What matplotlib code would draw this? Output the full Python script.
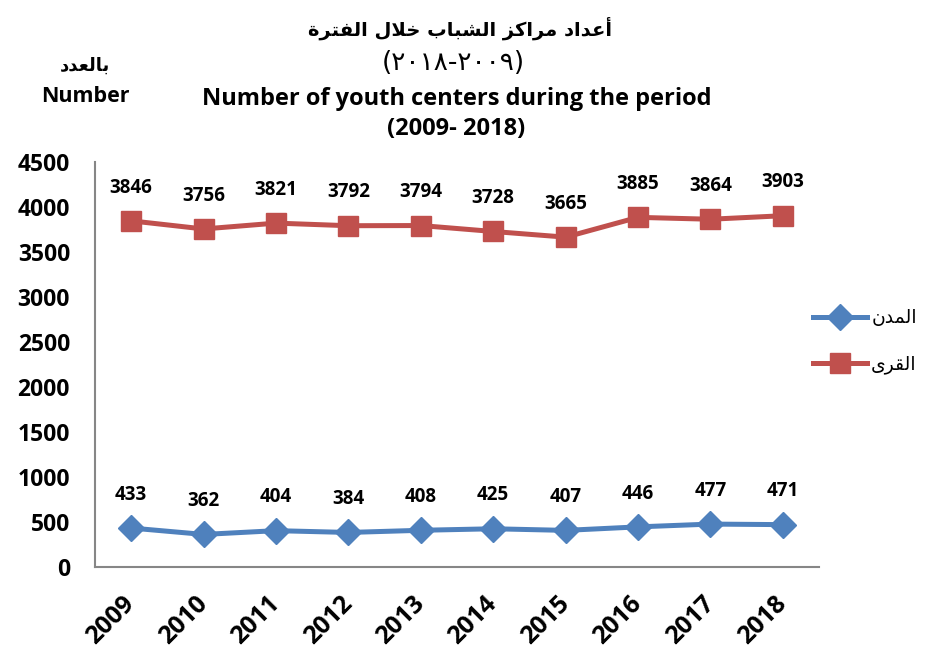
import matplotlib
matplotlib.use("Agg")
import matplotlib.pyplot as plt
from matplotlib.lines import Line2D

# data
years = ["2009", "2010", "2011", "2012", "2013", "2014", "2015", "2016", "2017", "2018"]
cities = [433, 362, 404, 384, 408, 425, 407, 446, 477, 471]
villages = [3846, 3756, 3821, 3792, 3794, 3728, 3665, 3885, 3864, 3903]
yticks = [0, 500, 1000, 1500, 2000, 2500, 3000, 3500, 4000, 4500]

title_ar = "أعداد مراكز الشباب خلال الفترة"
title_ar_years = "(٢٠١٨-٢٠٠٩)"
title_en = "Number of youth centers during the period\n(2009- 2018)"
ylabel_ar = "بالعدد"
ylabel_en = "Number"
label_cities = "المدن"
label_villages = "القرى"

# small arabic shaper (matplotlib has no contextual shaping / bidi)
# letter: (isolated, final, initial, medial) ; None -> right-joining only
FORMS = {
    "ا": ("\uFE8D", "\uFE8E", None, None),
    "أ": ("\uFE83", "\uFE84", None, None),
    "ب": ("\uFE8F", "\uFE90", "\uFE91", "\uFE92"),
    "ة": ("\uFE93", "\uFE94", None, None),
    "ت": ("\uFE95", "\uFE96", "\uFE97", "\uFE98"),
    "خ": ("\uFEA5", "\uFEA6", "\uFEA7", "\uFEA8"),
    "د": ("\uFEA9", "\uFEAA", None, None),
    "ر": ("\uFEAD", "\uFEAE", None, None),
    "ز": ("\uFEAF", "\uFEB0", None, None),
    "ش": ("\uFEB5", "\uFEB6", "\uFEB7", "\uFEB8"),
    "ع": ("\uFEC9", "\uFECA", "\uFECB", "\uFECC"),
    "ف": ("\uFED1", "\uFED2", "\uFED3", "\uFED4"),
    "ق": ("\uFED5", "\uFED6", "\uFED7", "\uFED8"),
    "ك": ("\uFED9", "\uFEDA", "\uFEDB", "\uFEDC"),
    "ل": ("\uFEDD", "\uFEDE", "\uFEDF", "\uFEE0"),
    "م": ("\uFEE1", "\uFEE2", "\uFEE3", "\uFEE4"),
    "ن": ("\uFEE5", "\uFEE6", "\uFEE7", "\uFEE8"),
    "ى": ("\uFEEF", "\uFEF0", None, None),
}
LAM_ALEF = {"ا": ("\uFEFB", "\uFEFC"), "أ": ("\uFEF7", "\uFEF8")}


def shape(s):
    out = []
    i = 0
    while i < len(s):
        c = s[i]
        if c not in FORMS:
            out.append(c)
            i += 1
            continue
        prev = s[i - 1] if i > 0 else None
        join_prev = prev in FORMS and FORMS[prev][2] is not None
        if c == "ل" and i + 1 < len(s) and s[i + 1] in LAM_ALEF:
            out.append(LAM_ALEF[s[i + 1]][1 if join_prev else 0])
            i += 2
            continue
        nxt = s[i + 1] if i + 1 < len(s) else None
        join_next = FORMS[c][2] is not None and nxt in FORMS
        iso, fin, ini, med = FORMS[c]
        if join_prev and join_next:
            out.append(med)
        elif join_prev:
            out.append(fin)
        elif join_next:
            out.append(ini)
        else:
            out.append(iso)
        i += 1
    return "".join(out)[::-1]


BLUE = "#4F81BD"
RED = "#C0504D"
EN_FONT = "Open Sans"

fig = plt.figure(figsize=(9.26, 6.54), dpi=100)
ax = fig.add_axes([0.1026, 0.1330, 0.7818, 0.6193])

x = list(range(len(years)))
ax.plot(x, cities, color=BLUE, lw=3.6, marker="D", ms=13, mec=BLUE)
ax.plot(x, villages, color=RED, lw=3.6, marker="s", ms=15, mec=RED)

for xi, v in zip(x, cities):
    ax.annotate(str(v), (xi, v), xytext=(0, 24), textcoords="offset points",
                ha="center", va="center", fontsize=13.5, fontweight="bold", family=EN_FONT)
for xi, v in zip(x, villages):
    ax.annotate(str(v), (xi, v), xytext=(0, 24), textcoords="offset points",
                ha="center", va="center", fontsize=13.5, fontweight="bold", family=EN_FONT)

ax.set_xlim(-0.5, len(years) - 0.5)
ax.set_ylim(0, 4500)
ax.set_yticks(yticks)
ax.set_yticklabels([str(t) for t in yticks], fontsize=16.5, fontweight="bold", family=EN_FONT)
ax.set_xticks(x)
ax.set_xticklabels(years, fontsize=18, fontweight="bold", family=EN_FONT,
                   rotation=45, ha="right", va="center", rotation_mode="anchor")
ax.tick_params(axis="y", length=0, pad=18)
ax.tick_params(axis="x", length=0, pad=24)

for s in ["top", "right"]:
    ax.spines[s].set_visible(False)
for s in ["left", "bottom"]:
    ax.spines[s].set_color("#868686")
    ax.spines[s].set_linewidth(1.5)

# titles
fig.text(0.497, 0.957, shape(title_ar), ha="center", va="center", fontsize=14,
         fontweight="bold", family="DejaVu Sans")
fig.text(0.490, 0.903, title_ar_years, ha="center", va="center", fontsize=19,
         family="DejaVu Sans")
fig.text(0.493, 0.825, title_en, ha="center", va="center", fontsize=17,
         fontweight="bold", family=EN_FONT, linespacing=1.33)

fig.text(0.092, 0.900, shape(ylabel_ar), ha="center", va="center", fontsize=13,
         fontweight="bold", family="DejaVu Sans")
fig.text(0.092, 0.853, ylabel_en, ha="center", va="center", fontsize=15.5,
         fontweight="bold", family=EN_FONT)

handles = [
    Line2D([], [], color=BLUE, lw=3.6, marker="D", ms=13),
    Line2D([], [], color=RED, lw=3.6, marker="s", ms=15),
]
fig.legend(handles, [shape(label_cities), shape(label_villages)], loc="center left",
           bbox_to_anchor=(0.878, 0.478), frameon=False, handlelength=2.9,
           labelspacing=1.45, prop={"family": "DejaVu Sans", "size": 13.5},
           handletextpad=0.2, borderpad=0, borderaxespad=0)

fig.savefig("out.png", dpi=100)
